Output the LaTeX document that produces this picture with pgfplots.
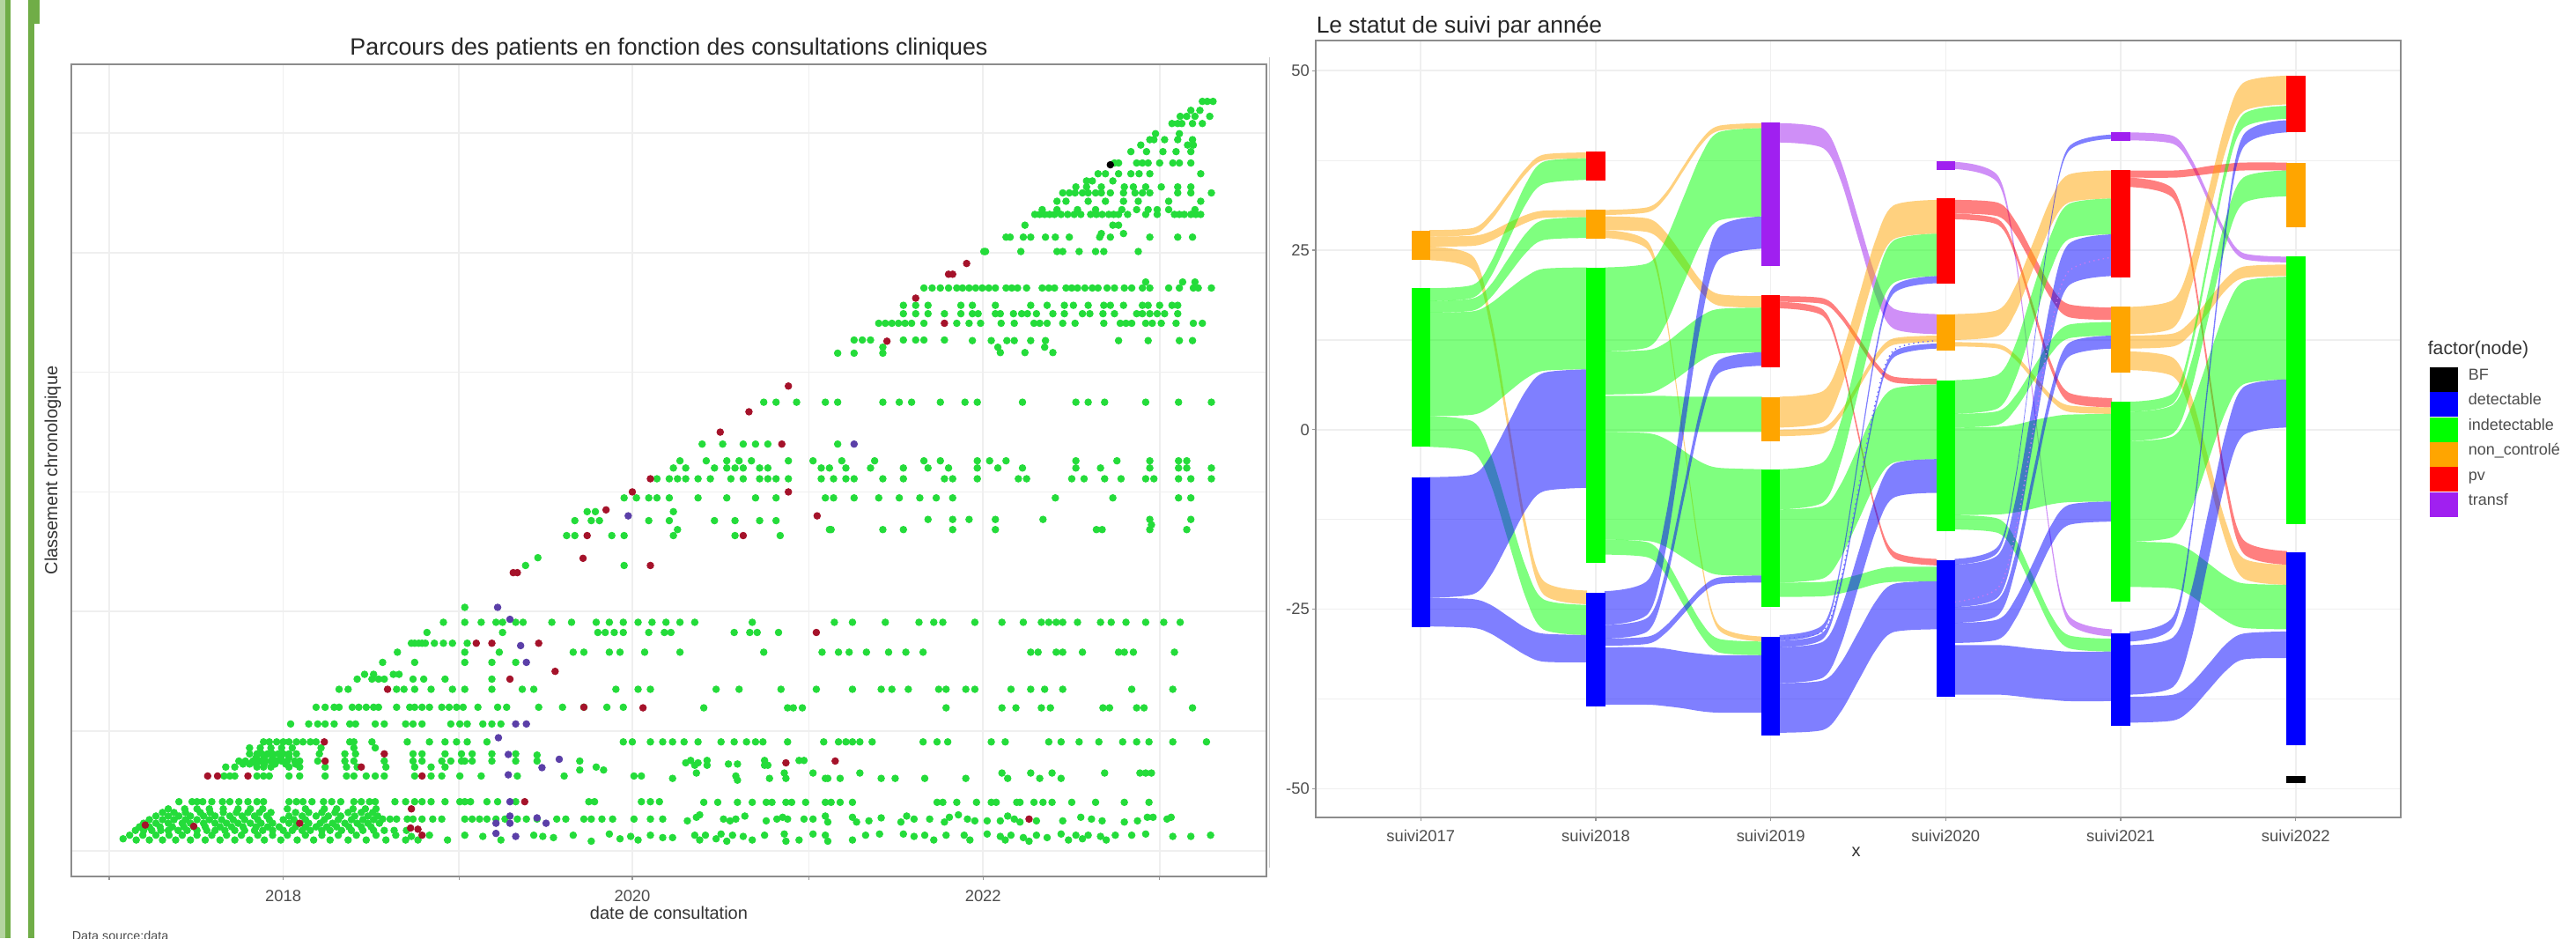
\documentclass[border=0pt]{standalone}
\usepackage{fontspec}
\setmainfont{Liberation Sans}
\usepackage{pgfplots}
\pgfplotsset{compat=1.18}
\definecolor{pg}{HTML}{24DC3A}
\definecolor{pr}{HTML}{A5122A}
\definecolor{pp}{HTML}{5B3FA8}
\definecolor{sg}{HTML}{00FF00}
\definecolor{sb}{HTML}{0000FF}
\definecolor{so}{HTML}{FFA500}
\definecolor{sr}{HTML}{FF0000}
\definecolor{sp}{HTML}{A020F0}
\definecolor{tg}{HTML}{4D4D4D}
\definecolor{gl}{HTML}{EFEFEF}
\definecolor{pale}{HTML}{B5D5A0}
\definecolor{bar}{HTML}{70AD47}
\newcommand\fs[1]{\fontsize{#1}{#1}\selectfont}
% one ribbon: colour style, upper edge, lower edge
\newcommand\R[3]{\addplot[#1,smooth] coordinates {#2} -- plot[smooth] coordinates {#3} -- cycle;}
\pgfplotsset{
  panel/.style={scale only axis, axis line style={draw=gray!90,line width=.55pt},
    grid=both, grid style={draw=gl,line width=.4pt}, minor grid style={draw=gl,line width=.3pt},
    major tick length=1pt, minor tick length=0pt, tick style={draw=gray!80,line width=.3pt},
    tick align=outside, xtick pos=bottom, ytick pos=left,
    ticklabel style={font=\fs{4.6},text=tg,inner sep=0pt},
    xlabel style={font=\fs{5},text=black!80,anchor=center},
    ylabel style={font=\fs{5},text=black!80,anchor=center},
    title style={text=black!85,anchor=center,inner sep=0pt,yshift=-7.4pt}},
  dots/.style={only marks,mark=*,mark size=.95pt,mark options={draw=#1,fill=#1,line width=.2pt}},
  rg/.style={fill=sg,fill opacity=.5,draw=none},
  rb/.style={fill=sb,fill opacity=.5,draw=none},
  ro/.style={fill=so,fill opacity=.5,draw=none},
  rr/.style={fill=sr,fill opacity=.5,draw=none},
  rp/.style={fill=sp,fill opacity=.5,draw=none},
}
\begin{document}
\begin{tikzpicture}
\clip (0,0) rectangle (731.25pt,266.25pt);
\fill[white] (0,0) rectangle (731.25pt,266.25pt);
% slide decoration
\fill[pale] (0,0) rectangle (1.5pt,266.25pt);
\fill[bar] (1.5pt,0) rectangle (3pt,266.25pt);
\fill[bar] (8pt,0) rectangle (9.75pt,266.25pt);
\fill[bar] (8pt,259.5pt) rectangle (11.25pt,266.25pt);
\draw[gray!40,line width=.3pt] (360.3pt,20pt) -- (360.3pt,250pt);

\begin{axis}[panel, at={(20.25pt,17.5pt)}, anchor=south west, width=339.25pt, height=230.5pt,
  xmin=87, xmax=1542, ymin=-43, ymax=1315,
  xtick={133,345,559,770,985,1197,1412}, xticklabels={,2018,,2020,,2022,},
  ytick={0,200,400,600,800,1000,1200}, yticklabels={}, y tick style={draw=none},
  xticklabel style={yshift=-2.6pt},
  title={\fs{6.7}Parcours des patients en fonction des consultations cliniques},
  title style={at={(axis description cs:.5,1.025)}},
  xlabel={date de consultation}, xlabel style={at={(axis description cs:.5,-.0445)}},
  ylabel={Classement chronologique}, ylabel style={at={(axis description cs:-.0155,.5)}},
]
\addplot[dots=pg] coordinates {
(150,20)(158,26)(166,18)(174,26)(182,18)(190,26)(198,18)(206,26)(214,18)(222,26)(232,18)(240,26)(250,18)(258,26)(268,18)(276,26)(286,18)(294,26)(304,18)(314,26)(322,18)(332,26)(342,18)(350,26)(362,18)(372,26)(382,18)(392,26)(402,18)(412,26)(424,18)(434,26)(446,18)(458,26)(470,18)(482,26)(494,18)(501,24)(509,18)(523,26)(545,18)(566,26)(588,24)(610,18)(650,26)(661,24)(674,22)(698,26)(720,16)(742,28)(755,20)(768,24)(777,18)(792,26)(807,22)
(819,22)(846,26)(852,18)(859,26)(872,20)(878,28)(885,16)(892,26)(905,24)(916,18)(931,26)(955,28)(957,16)(973,18)(990,28)(1005,26)(1008,16)(1038,18)(1054,26)(1071,28)(1100,28)(1113,24)(1126,26)(1137,18)(1152,26)(1174,26)(1181,18)(1202,28)(1218,24)(1224,18)(1231,26)(1246,22)(1253,16)(1262,26)(1275,22)(1292,28)(1301,18)(1310,26)(1318,20)(1325,26)(1340,24)(1347,18)(1358,26)(1378,26)(1395,28)(1428,24)(1450,24)(1474,26)
(165,34)(175,34)(185,34)(196,34)(205,34)(217,34)(228,34)(240,34)(252,34)(262,34)(274,34)(286,34)(298,34)(310,34)(320,34)(332,34)(345,34)(356,34)(368,34)(378,34)(392,34)(402,34)(416,34)(428,34)(442,34)(455,34)(468,34)(480,34)(495,34)
(170,40)(182,40)(195,40)(210,40)(224,40)(236,40)(250,40)(268,40)(282,40)(296,40)(312,40)(326,40)(340,40)(360,40)(372,40)(385,40)(398,40)(410,40)(425,40)(440,40)(452,40)
(175,46)(190,46)(205,46)(222,46)(232,46)(248,46)(262,46)(276,46)(290,46)(305,46)(318,46)(332,46)(352,46)(362,46)(376,46)(390,46)(405,46)(420,46)(435,46)(448,46)(462,46)
(182,52)(198,52)(212,52)(226,52)(240,52)(255,52)(270,52)(284,52)(298,52)(314,52)(328,52)(345,52)(358,52)(372,52)(395,52)(412,52)(428,52)(442,52)(455,52)
(190,58)(205,58)(218,58)(232,58)(248,58)(262,58)(280,58)(295,58)(310,58)(325,58)(352,58)(368,58)(385,58)(400,58)(415,58)(432,58)(448,58)(460,58)
(198,64)(212,64)(226,64)(244,64)(256,64)(272,64)(288,64)(302,64)(316,64)(330,64)(360,64)(376,64)(392,64)(408,64)(424,64)(440,64)(454,64)
(205,70)(225,70)(240,70)(255,70)(272,70)(290,70)(305,70)(320,70)(350,70)(372,70)(395,70)(410,70)(430,70)(445,70)(458,70)
(466,53)(475,53)(483,53)(496,53)(503,53)(514,53)(527,53)(538,53)(566,53)(575,53)(584,53)(593,53)(604,53)(615,53)(630,53)(641,53)(654,53)(678,53)(689,53)(711,53)(720,53)(733,53)(746,53)(772,53)(792,53)(807,53)
(837,50)(848,56)(852,60)(881,53)(889,50)(896,53)(907,58)(933,50)(946,53)(953,56)(959,53)(979,53)(990,53)(1005,58)(1008,48)(1038,56)(1043,48)(1058,50)(1073,55)(1097,48)(1104,58)(1113,53)(1132,53)(1150,48)(1156,56)(1167,60)(1178,53)(1187,50)(1202,50)(1218,50)(1227,58)(1235,53)(1242,48)(1262,50)(1294,50)(1316,56)(1329,53)(1342,50)(1369,48)(1385,50)(1397,56)(1404,56)(1421,53)(1426,56)
(218,82)(234,82)(240,82)(247,82)(258,82)(271,82)(280,82)(291,82)(302,82)(313,82)(321,82)(352,82)(361,82)(369,82)(380,82)(394,82)(404,82)(415,82)(431,82)(440,82)(450,82)(457,82)(481,82)(494,82)(505,82)(514,82)(525,82)(542,82)(560,82)(566,82)(573,82)(593,82)(606,82)(628,82)(717,82)(724,82)(781,82)(792,82)(803,82)
(857,81)(874,81)(898,81)(916,81)(933,81)(940,81)(957,81)(964,81)(981,81)(1005,81)(1012,81)(1023,81)(1038,81)(1141,81)(1148,81)(1165,81)(1189,81)(1207,81)(1213,81)(1238,81)(1242,81)(1259,81)(1270,81)(1281,81)(1305,81)(1334,81)(1369,81)(1399,81)
(273,125)(280,125)(286,125)(313,125)(321,125)(328,125)(352,125)(365,125)(396,125)(422,125)(431,125)(446,125)(457,125)(468,125)(505,125)(525,125)(538,125)(560,125)(586,125)(630,125)(687,125)(706,135)(735,135)(772,125)(781,125)
(819,121)(848,130)(896,125)(898,118)(937,121)(955,130)(957,121)(990,130)(1005,121)(1008,121)(1023,121)(1047,130)(1073,121)(1090,121)(1126,121)(1176,121)(1220,130)(1227,121)(1255,130)(1266,121)(1281,130)(1292,121)(1345,130)(1388,130)(1395,130)(1402,130)
(275,140)(286,140)(313,140)(321,140)(330,140)(352,140)(365,140)(396,140)(422,140)(435,140)(470,140)(505,140)(525,140)(542,140)
(296,145)(304,145)(312,145)(322,145)(335,145)(348,145)(360,145)
(291,150)(299,150)(308,150)(317,150)(323,150)(330,150)(337,150)(343,150)(350,150)(359,150)(365,150)(387,150)(420,150)(431,150)(468,150)(503,150)(514,150)(538,150)(549,150)(562,150)(566,150)(575,150)(599,150)(628,150)(654,150)(706,150)(726,140)
(312,156)(322,156)(332,156)(342,156)(352,156)
(304,162)(313,162)(319,162)(326,162)(332,162)(339,162)(345,162)(352,162)(361,162)(389,162)(420,162)(433,162)(503,162)(514,162)(542,162)(562,162)(575,162)(599,162)(628,162)(654,160)
(304,172)(317,172)(330,172)(343,172)(356,172)(391,172)(431,172)(457,172)
(835,147)(841,151)(846,143)(850,147)(861,151)(861,143)(887,145)(898,145)(931,151)(935,143)(931,143)(973,151)(979,151)
(321,182)(328,182)(337,182)(345,182)(352,182)(361,182)(369,182)(378,182)(385,182)(426,182)(431,182)(453,182)(496,182)(523,182)(542,182)(556,182)(569,182)(593,182)(759,182)(770,182)(792,182)(807,182)
(819,182)(833,182)(850,182)(878,182)(894,182)(909,182)(920,182)(929,182)(959,182)(1003,182)(1021,182)(1030,182)(1038,182)(1047,182)(1062,182)(1124,182)(1141,182)(1154,182)(1207,182)(1224,182)(1277,182)(1292,182)(1314,182)(1338,182)(1367,182)(1384,182)(1399,182)(1428,182)(1469,182)
(354,212)(376,212)(387,212)(396,212)(407,212)(426,212)(433,212)(457,212)(468,212)(494,212)(503,212)(514,212)(549,212)(560,212)(569,212)(588,212)(599,212)(610,212)
(385,240)(396,240)(407,240)(413,240)(429,240)(437,240)(446,240)(455,240)(461,240)(483,240)(499,240)(505,240)(514,240)(523,240)(538,240)(547,240)(556,240)(564,240)(582,240)(606,240)(617,240)(656,240)(685,240)(711,240)(739,240)(759,240)
(857,239)(959,239)(966,239)(977,239)(1152,239)(1220,239)(1237,239)(1268,239)(1279,239)(1343,239)(1351,239)(1384,239)(1393,239)(1452,239)
(413,270)(424,270)(483,270)(492,270)(505,270)(525,270)(551,270)(566,270)(599,270)(636,270)(650,270)(750,270)(777,270)(792,270)
(872,270)(900,270)(951,270)(994,270)(1038,270)(1073,270)(1086,270)(1106,270)(1143,270)(1152,270)(1176,270)(1187,270)(1231,270)(1255,270)(1272,270)(1294,270)(1378,270)(1428,270)
(435,287)(453,287)(461,287)(468,287)(503,287)(516,287)(542,287)(599,287)(444,295)(455,295)(479,295)(486,295)
(466,315)(505,315)(566,315)(599,315)(628,315)
(484,332)(566,332)(608,332)(698,332)(711,332)(742,332)(755,332)(785,332)
(828,332)(930,332)(1001,332)(1021,332)(1034,332)(1055,332)(1082,332)(1103,332)(1124,332)(1255,332)(1264,332)(1286,332)(1294,332)(1318,332)(1362,332)(1369,332)(1380,332)(1430,332)
(501,347)(505,347)(510,347)(514,347)(518,347)(529,347)(540,347)(551,347)(569,347)
(520,365)(612,365)(728,365)(737,365)(748,365)(759,365)(790,365)(809,365)(817,365)(894,365)(913,365)(922,365)(948,365)
(540,382)(566,382)(586,382)(604,382)(612,382)(628,382)(637,382)(672,382)(696,382)(726,382)(742,382)(759,382)(777,382)(794,382)(811,382)
(828,382)(846,382)(916,382)(1016,382)(1038,382)(1078,382)(1119,382)(1137,382)(1148,382)(1187,382)(1220,382)(1246,382)(1268,382)(1277,382)(1286,382)(1294,382)(1312,382)(1340,382)(1353,382)(1371,382)(1395,382)(1417,382)(1437,382)
(566,407)
(655,490)(640,477)(760,477)
(690,527)(700,527)(745,527)(760,527)(820,527)(825,537)(895,527)(950,527)
(700,552)(720,552)(730,552)(790,552)(815,552)(870,552)(895,552)(925,552)(945,552)(1010,537)(1012,537)(1075,537)(1100,537)(1160,537)(1212,537)(1335,537)(1342,537)(1400,537)(1402,545)(1445,537)
(1130,554)(1160,554)(1180,554)(1212,554)(1270,554)(1400,554)(1450,554)
(715,567)(725,567)(820,567)
(760,590)(775,590)(790,590)(800,590)(815,590)(850,590)(885,590)(920,590)(945,590)(1005,590)(1015,590)(1040,590)(1070,590)(1095,590)(1120,590)(1140,590)(1160,590)(1285,590)(1355,590)(1435,590)(1450,590)
(800,622)(815,622)(825,622)(835,622)(850,622)(865,622)(890,622)(905,622)(925,622)(935,622)(945,622)(960,622)(1000,622)(1015,622)(1030,622)(1040,622)(1075,622)(1100,622)(1150,622)(1160,622)(1190,622)(1240,622)(1250,622)(1305,622)(1320,622)(1345,622)(1365,622)(1395,622)(1405,622)(1435,622)(1450,622)(1475,622)
(820,640)(835,640)(870,640)(885,640)(895,640)(905,640)(925,640)(935,640)(1000,640)(1010,640)(1030,640)(1060,640)(1100,640)(1130,640)(1155,640)(1190,640)(1215,640)(1245,640)(1310,640)(1340,640)(1400,640)(1435,640)(1445,640)(1475,640)
(828,652)(860,652)(885,652)(900,652)(915,652)(960,652)(990,652)(1025,652)(1065,652)(1125,652)(1145,652)(1190,652)(1205,652)(1225,652)(1310,652)(1360,652)(1400,652)(1435,652)(1445,652)
(855,680)(880,680)(905,680)(920,680)(935,680)(1020,680)
(930,750)(945,750)(970,750)(1005,750)(1020,750)(1075,750)(1095,750)(1110,750)(1145,750)(1175,750)(1190,750)(1245,750)(1310,750)(1325,750)(1345,750)(1395,750)(1435,750)(1475,750)
(1020,832)(1040,832)(1075,832)(1218,833)(1248,833)(1282,833)
(1040,854)(1050,854)(1060,854)(1100,854)(1115,854)(1125,854)(1150,854)(1184,853)(1207,853)(1226,853)(1235,853)(1255,853)(1273,853)(1362,853)(1398,853)(1436,853)(1452,853)(1075,842)(1215,842)(1272,842)
(1070,882)(1078,882)(1086,882)(1094,882)(1102,882)(1110,882)(1125,882)(1165,882)(1180,882)(1194,882)(1219,882)(1235,882)(1259,882)(1266,882)(1275,882)(1294,882)(1309,882)(1344,882)(1364,882)(1371,882)(1378,882)(1395,882)(1403,882)(1414,882)(1432,882)(1453,882)(1464,882)
(1100,898)(1115,898)(1130,898)(1150,898)(1170,898)(1184,898)(1191,898)(1212,898)(1218,898)(1234,898)(1244,898)(1251,898)(1262,898)(1282,898)(1296,898)(1318,898)(1327,898)(1343,898)(1357,898)(1384,898)(1391,898)(1400,898)(1409,898)(1418,898)(1434,898)
(1100,912)(1115,912)(1130,912)(1170,912)(1184,912)(1212,912)(1255,912)(1275,912)(1296,912)(1307,912)(1325,912)(1344,912)(1352,912)(1368,912)(1391,912)(1398,912)(1412,912)(1427,912)(1434,912)
(1125,941)(1135,941)(1145,941)(1155,941)(1165,941)(1172,941)(1180,941)(1188,941)(1196,941)(1204,941)(1212,941)(1225,941)(1232,941)(1239,941)(1250,941)(1269,941)(1277,941)(1284,941)(1298,941)(1305,941)(1312,941)(1321,941)(1330,941)(1337,941)(1348,941)(1357,941)(1369,941)(1378,941)(1391,941)(1400,941)(1423,941)(1436,941)(1453,941)(1459,941)(1475,941)(1395,951)(1440,951)(1455,951)
(1198,1002)(1200,1002)(1243,1002)(1287,1002)(1294,1002)(1314,1002)(1334,1002)(1344,1002)(1386,1002)
(1225,1026)(1230,1026)(1246,1026)(1255,1026)(1273,1026)(1285,1026)(1302,1026)(1339,1026)(1352,1026)(1400,1026)(1434,1026)(1452,1026)(1341,1032)(1368,1032)
(1248,1046)(1355,1046)(1362,1046)
(1260,1064)(1266,1064)(1272,1064)(1278,1064)(1284,1064)(1292,1064)(1300,1064)(1308,1064)(1316,1064)(1328,1064)(1335,1064)(1342,1064)(1350,1064)(1356,1064)(1362,1064)(1373,1064)(1395,1064)(1409,1064)(1430,1064)(1436,1064)(1442,1064)(1450,1064)(1456,1064)(1462,1064)
(1269,1072)(1287,1072)(1312,1072)(1334,1072)(1366,1072)(1384,1072)(1398,1072)(1409,1072)(1423,1072)(1455,1072)
(1287,1086)(1298,1086)(1325,1086)(1346,1086)(1368,1086)(1386,1086)(1423,1086)(1462,1086)
(1294,1100)(1302,1100)(1309,1100)(1318,1100)(1325,1100)(1334,1100)(1341,1100)(1352,1100)(1368,1100)(1382,1100)(1391,1100)(1400,1100)(1434,1100)(1450,1100)(1475,1100)
(1310,1110)(1323,1110)(1341,1110)(1369,1110)(1380,1110)(1395,1110)(1414,1110)(1434,1110)(1450,1110)
(1323,1120)(1330,1120)(1355,1120)
(1337,1132)(1346,1132)(1362,1132)(1377,1132)(1387,1132)(1400,1132)(1462,1132)
(1362,1150)(1357,1150)(1384,1150)(1391,1150)(1398,1150)(1412,1150)(1428,1150)(1436,1150)(1450,1150)
(1377,1169)(1396,1169)(1416,1169)(1432,1169)(1450,1169)(1389,1180)(1446,1180)(1453,1180)
(1400,1189)(1405,1189)(1418,1189)(1434,1189)(1452,1189)(1407,1199)(1436,1199)
(1427,1216)(1434,1216)(1439,1216)(1452,1216)(1464,1216)(1437,1228)(1445,1228)(1455,1228)(1473,1228)(1450,1238)(1461,1238)(1464,1253)(1470,1253)(1477,1253)
};
\addplot[dots=pr] coordinates {
(501,70)(500,38)(509,36)(514,26)(177,43)(236,41)(365,46)(639,82)(253,125)(265,125)(302,125)(440,140)(514,125)(468,162)(396,150)(395,182)(472,270)(711,240)(783,239)(621,287)(676,300)(580,347)(599,347)(656,347)(994,365)(1253,53)(957,147)(1017,150)
(630,465)(625,465)(710,489)(792,477)(715,527)(905,527)(738,570)(995,560)(770,600)(960,600)(792,622)(877,700)(912,734)(952,680)(960,777)(1080,852)(1150,882)(1115,924)(1155,964)(1160,964)(1177,982)
};
\addplot[dots=pp] coordinates {
(604,29)(628,24)(621,82)(621,58)(621,46)(604,46)(654,55)(665,46)(619,161)(619,127)(660,139)(681,153)(607,189)(628,212)(641,212)(641,315)(634,343)(621,387)(606,407)(765,560)(1040,680)
};
\addplot[dots=black] coordinates {(1352,1147)};
\end{axis}
\node[anchor=west,inner sep=0pt,font=\fs{3.6},text=tg] at (20.25pt,.6pt) {Data source:data};

\begin{axis}[panel, at={(373.5pt,34.25pt)}, anchor=south west, width=308pt, height=220.5pt,
  xmin=-.6, xmax=5.6, ymin=-54, ymax=54.2,
  xtick={0,1,2,3,4,5}, xticklabels={suivi2017,suivi2018,suivi2019,suivi2020,suivi2021,suivi2022},
  ytick={-50,-25,0,25,50}, yticklabels={-50,-25,0,25,50},
  minor ytick={-37.5,-12.5,12.5,37.5},
  xticklabel style={yshift=-2.4pt}, yticklabel style={xshift=-.6pt},
  title={\fs{6.6}Le statut de suivi par année},
  title style={at={(axis description cs:0,1.0238)},anchor=west},
  xlabel={x}, xlabel style={at={(axis description cs:.498,-.0442)}},
  legend image code/.code={\fill[#1,draw=none] (0pt,-3.4pt) rectangle (8pt,3.6pt);\path[draw=none,fill=none] (0pt,0pt) rectangle (11pt,.1pt);},
  legend cell align=left,
  legend style={draw=none,fill=none,at={(axis description cs:1.026,.5805)},anchor=north west,
    font=\fs{4.5},inner sep=0pt,row sep=0pt,nodes={inner sep=0pt,text=tg,text height=3.6pt,text depth=3.4pt}},
]
\addlegendimage{fill=black}
\addlegendimage{fill=sb}
\addlegendimage{fill=sg}
\addlegendimage{fill=so}
\addlegendimage{fill=sr}
\addlegendimage{fill=sp}
% suivi2017 -> suivi2018
\R{ro}{(.05,27.8)(.3,28.1)(.4,30)(.5,33.2)(.6,36.4)(.7,38.3)(.95,38.6)}{(.95,37.8)(.7,37.5)(.6,35.6)(.5,32.4)(.4,29.1)(.3,27.2)(.05,26.9)}
\R{ro}{(.05,26.9)(.3,27)(.4,27.6)(.5,28.8)(.6,29.9)(.7,30.5)(.95,30.6)}{(.95,29.6)(.7,29.5)(.6,28.8)(.5,27.6)(.4,26.3)(.3,25.6)(.05,25.5)}
\R{ro}{(.05,25.5)(.3,24.1)(.4,15.9)(.5,1.6)(.6,-12.8)(.7,-21)(.95,-22.4)}{(.95,-24.3)(.7,-22.9)(.6,-14.7)(.5,-.4)(.4,14)(.3,22.2)(.05,23.6)}
\R{rg}{(.05,19.7)(.3,20.2)(.4,23.3)(.5,28.8)(.6,34.2)(.7,37.3)(.95,37.8)}{(.95,34.8)(.7,34.2)(.6,31.4)(.5,26.3)(.4,21.3)(.3,18.4)(.05,17.9)}
\R{rg}{(.05,17.9)(.3,18.3)(.4,20.2)(.5,23.8)(.6,27.3)(.7,29.2)(.95,29.6)}{(.95,26.7)(.7,26.4)(.6,24.6)(.5,21.5)(.4,18.4)(.3,16.6)(.05,16.3)}
\R{rg}{(.05,16.3)(.3,16.5)(.4,17.6)(.5,19.5)(.6,21.3)(.7,22.4)(.95,22.6)}{(.95,8.4)(.7,8.2)(.6,7.1)(.5,5.2)(.4,3.2)(.3,2.1)(.05,1.9)}
\R{rg}{(.05,1.9)(.3,1.1)(.4,-3.4)(.5,-11.3)(.6,-19.1)(.7,-23.6)(.95,-24.4)}{(.95,-28.6)(.7,-27.8)(.6,-23.4)(.5,-15.5)(.4,-7.6)(.3,-3.2)(.05,-2.4)}
\R{rb}{(.05,-6.6)(.3,-6.2)(.4,-3.6)(.5,.9)(.6,5.4)(.7,7.9)(.95,8.4)}{(.95,-8.1)(.7,-8.6)(.6,-11.2)(.5,-15.8)(.4,-20.3)(.3,-22.9)(.05,-23.4)}
\R{rb}{(.05,-23.4)(.3,-23.6)(.4,-24.4)(.5,-26)(.6,-27.6)(.7,-28.4)(.95,-28.6)}{(.95,-32.4)(.7,-32.3)(.6,-31.4)(.5,-29.9)(.4,-28.4)(.3,-27.6)(.05,-27.4)}
% suivi2018 -> suivi2019
\R{ro}{(1.05,30.6)(1.3,31)(1.4,33)(1.5,36.7)(1.6,40.3)(1.7,42.3)(1.95,42.7)}{(1.95,42)(1.7,41.6)(1.6,39.6)(1.5,36)(1.4,32.3)(1.3,30.3)(1.05,29.9)}
\R{ro}{(1.05,29.7)(1.3,29.4)(1.4,27.5)(1.5,24.2)(1.6,20.8)(1.7,18.9)(1.95,18.6)}{(1.95,17)(1.7,17.3)(1.6,19.2)(1.5,22.4)(1.4,25.6)(1.3,27.5)(1.05,27.8)}
\R{ro}{(1.05,27.8)(1.3,26.1)(1.4,16.5)(1.5,-.5)(1.6,-17.4)(1.7,-27.1)(1.95,-28.8)}{(1.95,-29.5)(1.7,-27.8)(1.6,-18.3)(1.5,-1.4)(1.4,15.5)(1.3,25)(1.05,26.7)}
\R{rg}{(1.05,22.6)(1.3,23.2)(1.4,26.5)(1.5,32.3)(1.6,38.1)(1.7,41.4)(1.95,42)}{(1.95,29.7)(1.7,29.1)(1.6,25.9)(1.5,20.3)(1.4,14.7)(1.3,11.5)(1.05,10.9)}
\R{rg}{(1.05,10.9)(1.3,11.1)(1.4,12.1)(1.5,14)(1.6,15.8)(1.7,16.8)(1.95,17)}{(1.95,10.8)(1.7,10.6)(1.6,9.6)(1.5,7.8)(1.4,6.1)(1.3,5.1)(1.05,4.9)}
\R{rg}{(1.05,4.7)(1.3,4.7)(1.4,4.7)(1.5,4.6)(1.6,4.6)(1.7,4.6)(1.95,4.6)}{(1.95,-.3)(1.7,-.3)(1.6,-.3)(1.5,-.3)(1.4,-.3)(1.3,-.3)(1.05,-.3)}
\R{rg}{(1.05,-.3)(1.3,-.5)(1.4,-1.3)(1.5,-2.9)(1.6,-4.5)(1.7,-5.3)(1.95,-5.5)}{(1.95,-20.3)(1.7,-20.2)(1.6,-19.3)(1.5,-17.8)(1.4,-16.3)(1.3,-15.5)(1.05,-15.3)}
\R{rg}{(1.05,-15.3)(1.3,-15.7)(1.4,-18.1)(1.5,-22.4)(1.6,-26.7)(1.7,-29.1)(1.95,-29.5)}{(1.95,-31.4)(1.7,-31)(1.6,-28.6)(1.5,-24.4)(1.4,-20.2)(1.3,-17.8)(1.05,-17.4)}
\R{rb}{(1.05,-22.5)(1.3,-20.9)(1.4,-12.1)(1.5,3.6)(1.6,19.3)(1.7,28.1)(1.95,29.7)}{(1.95,25.2)(1.7,23.6)(1.6,14.7)(1.5,-1)(1.4,-16.7)(1.3,-25.6)(1.05,-27.2)}
\R{rb}{(1.05,-27.2)(1.3,-26.1)(1.4,-19.6)(1.5,-8.2)(1.6,3.2)(1.7,9.6)(1.95,10.8)}{(1.95,8.9)(1.7,7.8)(1.6,1.3)(1.5,-10.1)(1.4,-21.5)(1.3,-28)(1.05,-29.1)}
\R{rb}{(1.05,-29.1)(1.3,-28.8)(1.4,-27.3)(1.5,-24.7)(1.6,-22.1)(1.7,-20.6)(1.95,-20.3)}{(1.95,-21.3)(1.7,-21.5)(1.6,-23)(1.5,-25.7)(1.4,-28.3)(1.3,-29.8)(1.05,-30.1)}
\R{rb}{(1.05,-30.3)(1.3,-30.3)(1.4,-30.5)(1.5,-30.9)(1.6,-31.2)(1.7,-31.4)(1.95,-31.4)}{(1.95,-39.4)(1.7,-39.4)(1.6,-39.2)(1.5,-38.8)(1.4,-38.5)(1.3,-38.3)(1.05,-38.3)}
% suivi2019 -> suivi2020
\R{rp}{(2.05,42.7)(2.3,41.9)(2.4,37.4)(2.5,29.4)(2.6,21.4)(2.7,16.9)(2.95,16.1)}{(2.95,13.3)(2.7,14.1)(2.6,18.6)(2.5,26.6)(2.4,34.7)(2.3,39.2)(2.05,40)}
\R{rr}{(2.05,18.6)(2.3,18.3)(2.4,16.3)(2.5,12.9)(2.6,9.4)(2.7,7.4)(2.95,7.1)}{(2.95,6.3)(2.7,6.6)(2.6,8.6)(2.5,12)(2.4,15.5)(2.3,17.5)(2.05,17.8)}
\R{rr}{(2.05,17.8)(2.3,16.7)(2.4,10.6)(2.5,-.1)(2.6,-10.9)(2.7,-16.9)(2.95,-18)}{(2.95,-18.9)(2.7,-17.8)(2.6,-11.7)(2.5,-1)(2.4,9.7)(2.3,15.8)(2.05,16.9)}
\R{ro}{(2.05,4.6)(2.3,5.4)(2.4,10.1)(2.5,18.3)(2.6,26.5)(2.7,31.2)(2.95,32)}{(2.95,27.3)(2.7,26.5)(2.6,21.9)(2.5,13.8)(2.4,5.7)(2.3,1.1)(2.05,.3)}
\R{ro}{(2.05,0)(2.3,.4)(2.4,2.6)(2.5,6.6)(2.6,10.5)(2.7,12.7)(2.95,13.1)}{(2.95,12.2)(2.7,11.8)(2.6,9.6)(2.5,5.7)(2.4,1.7)(2.3,-.5)(2.05,-.9)}
\R{rg}{(2.05,-5.5)(2.3,-4.5)(2.4,1.1)(2.5,10.9)(2.6,20.7)(2.7,26.3)(2.95,27.3)}{(2.95,21.4)(2.7,20.4)(2.6,14.9)(2.5,5.2)(2.4,-4.6)(2.3,-10.1)(2.05,-11.1)}
\R{rg}{(2.05,-11.1)(2.3,-10.6)(2.4,-7.6)(2.5,-2.4)(2.6,2.8)(2.7,5.7)(2.95,6.3)}{(2.95,-4.1)(2.7,-4.6)(2.6,-7.5)(2.5,-12.7)(2.4,-17.8)(2.3,-20.7)(2.05,-21.3)}
\R{rg}{(2.05,-21.3)(2.3,-21.2)(2.4,-20.8)(2.5,-20.2)(2.6,-19.5)(2.7,-19.1)(2.95,-19.1)}{(2.95,-21.1)(2.7,-21.2)(2.6,-21.5)(2.5,-22.2)(2.4,-22.8)(2.3,-23.2)(2.05,-23.3)}
\R{rb}{(2.05,-28.6)(2.3,-27.1)(2.4,-18.6)(2.5,-3.6)(2.6,11.4)(2.7,19.9)(2.95,21.4)}{(2.95,20.4)(2.7,18.9)(2.6,10.4)(2.5,-4.5)(2.4,-19.4)(2.3,-27.9)(2.05,-29.4)}
\R{rb}{(2.05,-29.4)(2.3,-28.2)(2.4,-21.1)(2.5,-8.7)(2.6,3.7)(2.7,10.8)(2.95,12)}{(2.95,11.3)(2.7,10)(2.6,2.9)(2.5,-9.5)(2.4,-22)(2.3,-29.1)(2.05,-30.3)}
\R{rb}{(2.05,-30.3)(2.3,-29.5)(2.4,-25)(2.5,-17.2)(2.6,-9.3)(2.7,-4.8)(2.95,-4.1)}{(2.95,-8.8)(2.7,-9.5)(2.6,-14.1)(2.5,-22)(2.4,-30)(2.3,-34.5)(2.05,-35.3)}
\R{rb}{(2.05,-35.3)(2.3,-34.9)(2.4,-32.5)(2.5,-28.2)(2.6,-23.9)(2.7,-21.5)(2.95,-21.1)}{(2.95,-27.8)(2.7,-28.2)(2.6,-30.7)(2.5,-35)(2.4,-39.3)(2.3,-41.8)(2.05,-42.2)}
% suivi2020 -> suivi2021
\R{rp}{(3.05,37.3)(3.3,35.3)(3.4,24.3)(3.5,4.8)(3.6,-14.8)(3.7,-25.8)(3.95,-27.8)}{(3.95,-28.8)(3.7,-26.8)(3.6,-15.8)(3.5,3.8)(3.4,23.3)(3.3,34.3)(3.05,36.3)}
\R{rr}{(3.05,32)(3.3,31.6)(3.4,29)(3.5,24.5)(3.6,20)(3.7,17.5)(3.95,17)}{(3.95,15.3)(3.7,15.7)(3.6,18.3)(3.5,22.7)(3.4,27.1)(3.3,29.7)(3.05,30.1)}
\R{rr}{(3.05,30.1)(3.3,29.3)(3.4,25)(3.5,17.3)(3.6,9.5)(3.7,5.2)(3.95,4.4)}{(3.95,3.1)(3.7,3.9)(3.6,8.4)(3.5,16.2)(3.4,24)(3.3,28.5)(3.05,29.3)}
\R{ro}{(3.05,16.1)(3.3,16.7)(3.4,20.1)(3.5,26.1)(3.6,32.1)(3.7,35.5)(3.95,36.1)}{(3.95,32.2)(3.7,31.6)(3.6,28.3)(3.5,22.4)(3.4,16.4)(3.3,13.1)(3.05,12.5)}
\R{ro}{(3.05,12.2)(3.3,11.9)(3.4,10.4)(3.5,7.7)(3.6,4.9)(3.7,3.4)(3.95,3.1)}{(3.95,2.2)(3.7,2.5)(3.6,4.1)(3.5,6.9)(3.4,9.7)(3.3,11.3)(3.05,11.6)}
\R{rg}{(3.05,6.9)(3.3,7.7)(3.4,12)(3.5,19.6)(3.6,27.1)(3.7,31.4)(3.95,32.2)}{(3.95,27.2)(3.7,26.5)(3.6,22.2)(3.5,14.7)(3.4,7.2)(3.3,3)(3.05,2.2)}
\R{rg}{(3.05,2.2)(3.3,2.6)(3.4,4.8)(3.5,8.6)(3.6,12.4)(3.7,14.6)(3.95,15)}{(3.95,13.1)(3.7,12.7)(3.6,10.5)(3.5,6.7)(3.4,2.9)(3.3,.7)(3.05,.3)}
\R{rg}{(3.05,.3)(3.3,.4)(3.4,.7)(3.5,1.3)(3.6,1.8)(3.7,2.1)(3.95,2.2)}{(3.95,-10)(3.7,-10.1)(3.6,-10.4)(3.5,-11)(3.4,-11.5)(3.3,-11.8)(3.05,-11.9)}
\R{rg}{(3.05,-11.9)(3.3,-12.4)(3.4,-15.3)(3.5,-20.5)(3.6,-25.7)(3.7,-28.6)(3.95,-29.1)}{(3.95,-30.9)(3.7,-30.4)(3.6,-27.5)(3.5,-22.4)(3.4,-17.3)(3.3,-14.4)(3.05,-13.9)}
\R{rb}{(3.05,-18)(3.3,-16.2)(3.4,-6.2)(3.5,11.6)(3.6,29.3)(3.7,39.3)(3.95,41.1)}{(3.95,40.5)(3.7,38.7)(3.6,28.6)(3.5,10.9)(3.4,-6.9)(3.3,-17)(3.05,-18.8)}
\R{rb}{(3.05,-18.8)(3.3,-17.4)(3.4,-9.6)(3.5,4.2)(3.6,18)(3.7,25.8)(3.95,27.2)}{(3.95,21.4)(3.7,20)(3.6,12.2)(3.5,-1.7)(3.4,-15.5)(3.3,-23.3)(3.05,-24.7)}
\R{rb}{(3.05,-24.7)(3.3,-23.6)(3.4,-17.1)(3.5,-5.8)(3.6,5.5)(3.7,12)(3.95,13.1)}{(3.95,11.3)(3.7,10.1)(3.6,3.6)(3.5,-7.8)(3.4,-19.3)(3.3,-25.8)(3.05,-26.9)}
\R{rb}{(3.05,-26.9)(3.3,-26.4)(3.4,-23.5)(3.5,-18.5)(3.6,-13.4)(3.7,-10.5)(3.95,-10)}{(3.95,-12.8)(3.7,-13.3)(3.6,-16.2)(3.5,-21.3)(3.4,-26.3)(3.3,-29.2)(3.05,-29.7)}
\R{rb}{(3.05,-30)(3.3,-30)(3.4,-30.2)(3.5,-30.5)(3.6,-30.7)(3.7,-30.9)(3.95,-30.9)}{(3.95,-37.8)(3.7,-37.8)(3.6,-37.6)(3.5,-37.4)(3.4,-37.1)(3.3,-36.9)(3.05,-36.9)}
% suivi2021 -> suivi2022
\R{rp}{(4.05,41.4)(4.3,40.9)(4.4,37.9)(4.5,32.8)(4.6,27.6)(4.7,24.6)(4.95,24.1)}{(4.95,23.3)(4.7,23.8)(4.6,26.7)(4.5,31.8)(4.4,36.9)(4.3,39.8)(4.05,40.3)}
\R{rr}{(4.05,36.1)(4.3,36.1)(4.4,36.3)(4.5,36.7)(4.6,37)(4.7,37.2)(4.95,37.2)}{(4.95,36.1)(4.7,36.1)(4.6,35.9)(4.5,35.6)(4.4,35.3)(4.3,35.1)(4.05,35.1)}
\R{rr}{(4.05,35.1)(4.3,33.5)(4.4,24.7)(4.5,9.1)(4.6,-6.5)(4.7,-15.3)(4.95,-16.9)}{(4.95,-18.8)(4.7,-17.2)(4.6,-8.3)(4.5,7.5)(4.4,23.3)(4.3,32.2)(4.05,33.8)}
\R{ro}{(4.05,17.1)(4.3,18.1)(4.4,23.5)(4.5,33.2)(4.6,42.8)(4.7,48.3)(4.95,49.3)}{(4.95,45.3)(4.7,44.3)(4.6,38.9)(4.5,29.3)(4.4,19.7)(4.3,14.2)(4.05,13.3)}
\R{ro}{(4.05,13.1)(4.3,13.4)(4.4,15.1)(4.5,18.1)(4.6,21)(4.7,22.7)(4.95,23)}{(4.95,21.4)(4.7,21.1)(4.6,19.4)(4.5,16.3)(4.4,13.3)(4.3,11.6)(4.05,11.3)}
\R{ro}{(4.05,10.9)(4.3,10)(4.4,5)(4.5,-3.9)(4.6,-12.8)(4.7,-17.9)(4.95,-18.8)}{(4.95,-21.6)(4.7,-20.7)(4.6,-15.6)(4.5,-6.7)(4.4,2.3)(4.3,7.4)(4.05,8.3)}
\R{rg}{(4.05,3.9)(4.3,5.1)(4.4,12.1)(4.5,24.5)(4.6,36.9)(4.7,43.9)(4.95,45.1)}{(4.95,43.3)(4.7,42)(4.6,35.1)(4.5,22.9)(4.4,10.7)(4.3,3.7)(4.05,2.5)}
\R{rg}{(4.05,2.5)(4.3,3.5)(4.4,9.2)(4.5,19.3)(4.6,29.4)(4.7,35.1)(4.95,36.1)}{(4.95,32.5)(4.7,31.5)(4.6,25.7)(4.5,15.5)(4.4,5.3)(4.3,-.5)(4.05,-1.6)}
\R{rg}{(4.05,-1.6)(4.3,-.9)(4.4,3)(4.5,9.9)(4.6,16.7)(4.7,20.6)(4.95,21.3)}{(4.95,7)(4.7,6.3)(4.6,2.5)(4.5,-4.3)(4.4,-11.1)(4.3,-14.9)(4.05,-15.6)}
\R{rg}{(4.05,-15.6)(4.3,-15.8)(4.4,-16.8)(4.5,-18.6)(4.6,-20.4)(4.7,-21.4)(4.95,-21.6)}{(4.95,-27.8)(4.7,-27.6)(4.6,-26.6)(4.5,-24.9)(4.4,-23.1)(4.3,-22.1)(4.05,-21.9)}
\R{rb}{(4.05,-28.1)(4.3,-26)(4.4,-13.9)(4.5,7.5)(4.6,28.9)(4.7,41)(4.95,43.1)}{(4.95,41.4)(4.7,39.3)(4.6,27.2)(4.5,6)(4.4,-15.3)(4.3,-27.4)(4.05,-29.5)}
\R{rb}{(4.05,-30)(4.3,-28.9)(4.4,-22.6)(4.5,-11.5)(4.6,-.4)(4.7,5.9)(4.95,7)}{(4.95,.3)(4.7,-.8)(4.6,-7.1)(4.5,-18.3)(4.4,-29.5)(4.3,-35.8)(4.05,-36.9)}
\R{rb}{(4.05,-37.2)(4.3,-36.9)(4.4,-35.4)(4.5,-32.7)(4.6,-29.9)(4.7,-28.4)(4.95,-28.1)}{(4.95,-31.8)(4.7,-32)(4.6,-33.6)(4.5,-36.3)(4.4,-39)(4.3,-40.5)(4.05,-40.8)}
% thin dotted flows
\addplot[smooth,densely dotted,sb!60,line width=.35pt] coordinates {(2.05,-29)(2.3,-28)(2.4,-21)(2.5,-8.4)(2.6,4)(2.7,11)(2.95,12.4)};
\addplot[smooth,densely dotted,sp!60,line width=.35pt] coordinates {(3.05,-24)(3.3,-22)(3.4,-14)(3.5,0)(3.6,14)(3.7,22)(3.95,24)};
% nodes
\addplot[fill=so,draw=none] coordinates {(-.054,27.7)(.054,27.7)(.054,23.6)(-.054,23.6)} --cycle;
\addplot[fill=sg,draw=none] coordinates {(-.054,19.7)(.054,19.7)(.054,-2.4)(-.054,-2.4)} --cycle;
\addplot[fill=sb,draw=none] coordinates {(-.054,-6.7)(.054,-6.7)(.054,-27.5)(-.054,-27.5)} --cycle;
\addplot[fill=sr,draw=none] coordinates {(.946,38.7)(1.054,38.7)(1.054,34.7)(.946,34.7)} --cycle;
\addplot[fill=so,draw=none] coordinates {(.946,30.7)(1.054,30.7)(1.054,26.6)(.946,26.6)} --cycle;
\addplot[fill=sg,draw=none] coordinates {(.946,22.5)(1.054,22.5)(1.054,-18.5)(.946,-18.5)} --cycle;
\addplot[fill=sb,draw=none] coordinates {(.946,-22.7)(1.054,-22.7)(1.054,-38.5)(.946,-38.5)} --cycle;
\addplot[fill=sp,draw=none] coordinates {(1.946,42.8)(2.054,42.8)(2.054,22.8)(1.946,22.8)} --cycle;
\addplot[fill=sr,draw=none] coordinates {(1.946,18.7)(2.054,18.7)(2.054,8.7)(1.946,8.7)} --cycle;
\addplot[fill=so,draw=none] coordinates {(1.946,4.5)(2.054,4.5)(2.054,-1.6)(1.946,-1.6)} --cycle;
\addplot[fill=sg,draw=none] coordinates {(1.946,-5.5)(2.054,-5.5)(2.054,-24.7)(1.946,-24.7)} --cycle;
\addplot[fill=sb,draw=none] coordinates {(1.946,-28.8)(2.054,-28.8)(2.054,-42.6)(1.946,-42.6)} --cycle;
\addplot[fill=sp,draw=none] coordinates {(2.946,37.4)(3.054,37.4)(3.054,36.2)(2.946,36.2)} --cycle;
\addplot[fill=sr,draw=none] coordinates {(2.946,32.2)(3.054,32.2)(3.054,20.3)(2.946,20.3)} --cycle;
\addplot[fill=so,draw=none] coordinates {(2.946,16)(3.054,16)(3.054,11)(2.946,11)} --cycle;
\addplot[fill=sg,draw=none] coordinates {(2.946,6.8)(3.054,6.8)(3.054,-14.1)(2.946,-14.1)} --cycle;
\addplot[fill=sb,draw=none] coordinates {(2.946,-18.2)(3.054,-18.2)(3.054,-37.2)(2.946,-37.2)} --cycle;
\addplot[fill=sp,draw=none] coordinates {(3.946,41.4)(4.054,41.4)(4.054,40.2)(3.946,40.2)} --cycle;
\addplot[fill=sr,draw=none] coordinates {(3.946,36.2)(4.054,36.2)(4.054,21.2)(3.946,21.2)} --cycle;
\addplot[fill=so,draw=none] coordinates {(3.946,17.1)(4.054,17.1)(4.054,8)(3.946,8)} --cycle;
\addplot[fill=sg,draw=none] coordinates {(3.946,3.9)(4.054,3.9)(4.054,-24)(3.946,-24)} --cycle;
\addplot[fill=sb,draw=none] coordinates {(3.946,-28.3)(4.054,-28.3)(4.054,-41.2)(3.946,-41.2)} --cycle;
\addplot[fill=sr,draw=none] coordinates {(4.946,49.3)(5.054,49.3)(5.054,41.4)(4.946,41.4)} --cycle;
\addplot[fill=so,draw=none] coordinates {(4.946,37.2)(5.054,37.2)(5.054,28.2)(4.946,28.2)} --cycle;
\addplot[fill=sg,draw=none] coordinates {(4.946,24.2)(5.054,24.2)(5.054,-13.1)(4.946,-13.1)} --cycle;
\addplot[fill=sb,draw=none] coordinates {(4.946,-17.1)(5.054,-17.1)(5.054,-44)(4.946,-44)} --cycle;
\addplot[fill=black,draw=none] coordinates {(4.946,-48.2)(5.054,-48.2)(5.054,-49.2)(4.946,-49.2)} --cycle;
\legend{BF,detectable,indetectable,non\_controlé,pv,transf}
\end{axis}
\node[anchor=west,inner sep=0pt,font=\fs{5.3},text=black!80] at (689pt,167pt) {factor(node)};
\end{tikzpicture}
\end{document}
